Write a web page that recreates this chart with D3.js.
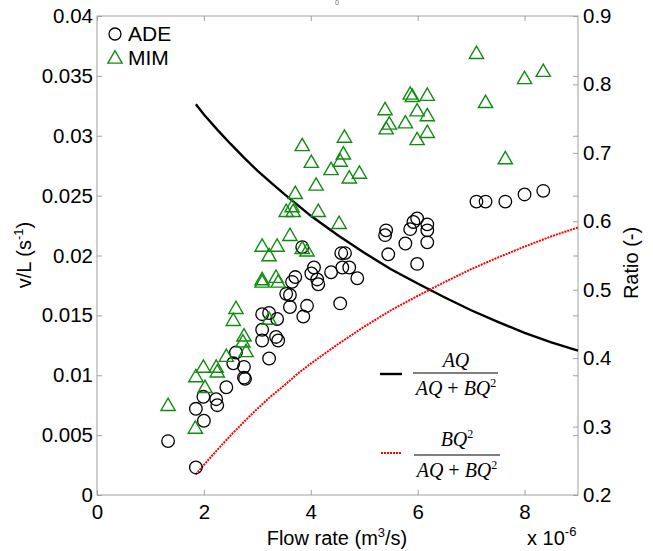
<!DOCTYPE html>
<html>
<head>
<meta charset="utf-8">
<script src="https://cdn.jsdelivr.net/npm/d3@7"></script>
<style>
  body { margin: 0; background: #fff; }
  text { font-family: Arial, "Liberation Sans", Helvetica, sans-serif; }
  text.frac { font-family: "Liberation Serif", "Times New Roman", serif; }
</style>
</head>
<body>
<svg id="chart" width="653" height="551"></svg>
<script>
// Flow rate in units of 1e-6 m^3/s, rate constants v/L in 1/s
const adeFlow = [1.33, 1.85, 1.85, 2.00, 1.99, 2.23, 2.25, 2.42, 2.55, 2.60, 2.75, 2.75, 2.77,
  3.09, 3.22, 3.37, 3.09, 3.09, 3.35, 3.39, 3.22, 3.54, 3.61, 3.61, 3.93, 3.86, 3.65, 3.71,
  4.06, 4.01, 4.12, 4.14, 4.38, 4.55, 3.84, 4.57, 4.64, 4.59, 4.72, 4.87,
  5.41, 5.39, 5.45, 5.77, 5.86, 5.92, 5.99, 6.18, 6.18, 6.18, 5.99,
  7.10, 7.27, 7.64, 8.00, 8.35];
const adeRate = [0.0045, 0.0023, 0.0072, 0.0062, 0.0082, 0.0080, 0.0075, 0.0090, 0.0110, 0.0119, 0.0107, 0.0098, 0.0097,
  0.0151, 0.0152, 0.0147, 0.0138, 0.0129, 0.0132, 0.0129, 0.0114, 0.0168, 0.0167, 0.0157, 0.0158, 0.0149, 0.0178, 0.0182,
  0.0190, 0.0185, 0.0180, 0.0176, 0.0186, 0.0160, 0.0207, 0.0202, 0.0202, 0.0190, 0.0190, 0.0181,
  0.0221, 0.0217, 0.0201, 0.0210, 0.0222, 0.0228, 0.0231, 0.0226, 0.0221, 0.0211, 0.0193,
  0.0245, 0.0245, 0.0245, 0.0251, 0.0254];

const mimFlow = [1.33, 1.84, 1.85, 1.99, 2.02, 2.23, 2.25, 2.42, 2.75, 2.73, 2.79, 2.60, 2.55,
  3.22, 3.09, 3.09, 3.35, 3.39, 3.09, 3.37, 3.22, 3.84, 3.93, 3.61, 3.54, 3.65, 3.67, 3.71,
  4.10, 4.14, 4.53, 4.01, 3.84, 4.38, 4.63, 4.61, 4.55, 4.72, 4.91,
  5.39, 5.47, 5.41, 5.77, 5.86, 5.90, 6.18, 5.99, 6.18, 6.18, 5.99,
  7.10, 7.27, 7.64, 8.00, 8.35];
const mimRate = [0.0074, 0.0055, 0.0098, 0.0106, 0.0089, 0.0106, 0.0102, 0.0115, 0.0132, 0.0127, 0.0119, 0.0155, 0.0145,
  0.0146, 0.0179, 0.0177, 0.0181, 0.0177, 0.0207, 0.0207, 0.0199, 0.0205, 0.0203, 0.0216, 0.0236, 0.0240, 0.0236, 0.0251,
  0.0258, 0.0236, 0.0226, 0.0277, 0.0291, 0.0271, 0.0298, 0.0284, 0.0278, 0.0264, 0.0268,
  0.0321, 0.0309, 0.0305, 0.0310, 0.0334, 0.0332, 0.0333, 0.0320, 0.0316, 0.0302, 0.0296,
  0.0368, 0.0327, 0.0280, 0.0347, 0.0353];

// Share of each term in AQ + BQ^2 (right axis)
const curveFlow = [1.85, 2.0, 2.25, 2.5, 2.75, 3.0, 3.25, 3.5, 3.75, 4.0, 4.5, 5.0, 5.5, 6.0, 6.5, 7.0, 7.5, 8.0, 8.5, 9.0];
const ratioLinear = [0.771, 0.756, 0.734, 0.713, 0.693, 0.674, 0.657, 0.640, 0.624, 0.608, 0.580, 0.554, 0.530, 0.509, 0.489, 0.470, 0.453, 0.437, 0.423, 0.411];
const ratioQuad = [0.230, 0.244, 0.266, 0.287, 0.307, 0.326, 0.344, 0.360, 0.377, 0.392, 0.420, 0.446, 0.470, 0.491, 0.511, 0.530, 0.547, 0.563, 0.578, 0.591];

const xTicks = [0, 2, 4, 6, 8];
const yTicks = [0, 0.005, 0.01, 0.015, 0.02, 0.025, 0.03, 0.035, 0.04];
const ratioTicks = [0.2, 0.3, 0.4, 0.5, 0.6, 0.7, 0.8, 0.9];

const svg = d3.select("#chart");
const L = 97, R = 578, T = 16, B = 495;
const axisGrey = "#a0a0a0";

const x = d3.scaleLinear().domain([0, 9]).range([L, R]);
const y = d3.scaleLinear().domain([0, 0.04]).range([B, T]);
const yR = d3.scaleLinear().domain([0.2, 0.9]).range([B, T]);

const fmt = d => d === 0 ? "0" : String(+d.toFixed(3));

function styleAxis(g, fontSize) {
  g.attr("color", axisGrey);
  g.select(".domain").remove();
  g.selectAll("text").attr("fill", "#000").attr("font-size", fontSize);
}

// Bottom axis
svg.append("g").attr("transform", `translate(0,${B})`)
  .call(d3.axisBottom(x).tickValues(xTicks).tickSizeInner(-5).tickSizeOuter(0).tickPadding(9).tickFormat(d3.format("d")))
  .call(g => styleAxis(g, 20.5));
// Top mirrored ticks
svg.append("g").attr("transform", `translate(0,${T})`)
  .call(d3.axisTop(x).tickValues(xTicks).tickSizeInner(-5).tickSizeOuter(0).tickFormat(""))
  .call(g => { g.attr("color", axisGrey); g.select(".domain").remove(); g.selectAll("text").remove(); });
// Left axis
svg.append("g").attr("transform", `translate(${L},0)`)
  .call(d3.axisLeft(y).tickValues(yTicks).tickSizeInner(-5).tickSizeOuter(0).tickPadding(4).tickFormat(fmt))
  .call(g => styleAxis(g, 20.5));
// Left ticks mirrored on the right edge
svg.append("g").attr("transform", `translate(${R},0)`)
  .call(d3.axisRight(y).tickValues(yTicks).tickSizeInner(-5).tickSizeOuter(0).tickFormat(""))
  .call(g => { g.attr("color", axisGrey); g.select(".domain").remove(); g.selectAll("text").remove(); });
// Right ratio axis
svg.append("g").attr("transform", `translate(${R},0)`)
  .call(d3.axisRight(yR).tickValues(ratioTicks).tickSizeInner(-5).tickSizeOuter(0).tickPadding(5).tickFormat(d3.format(".1f")))
  .call(g => styleAxis(g, 20.5));

// Plot frame
svg.append("rect").attr("x", L).attr("y", T).attr("width", R - L).attr("height", B - T)
  .attr("fill", "none").attr("stroke", axisGrey).attr("stroke-width", 1);

// Ratio curves
const line = vals => d3.line().x((d, i) => x(curveFlow[i])).y(d => yR(d))(vals);
svg.append("path").attr("d", line(ratioLinear))
  .attr("fill", "none").attr("stroke", "#000").attr("stroke-width", 2.4);
svg.append("path").attr("d", line(ratioQuad))
  .attr("fill", "none").attr("stroke", "#ff0000").attr("stroke-width", 2).attr("stroke-dasharray", "2,1");

// ADE markers
svg.append("g").selectAll("circle").data(adeFlow).join("circle")
  .attr("cx", d => x(d)).attr("cy", (d, i) => y(adeRate[i])).attr("r", 6.3)
  .attr("fill", "none").attr("stroke", "#000").attr("stroke-width", 1.3);

// MIM markers
const tri = d3.symbol(d3.symbolTriangle, 88);
const green = "#108c10";
svg.append("g").selectAll("path").data(mimFlow).join("path")
  .attr("transform", (d, i) => `translate(${x(d)},${y(mimRate[i])})`)
  .attr("d", tri).attr("fill", "none").attr("stroke", green).attr("stroke-width", 1.4);

// Marker legend
svg.append("circle").attr("cx", 115).attr("cy", 34).attr("r", 6)
  .attr("fill", "none").attr("stroke", "#000").attr("stroke-width", 1.3);
svg.append("text").attr("x", 128).attr("y", 41).attr("font-size", 21).text("ADE");
svg.append("path").attr("transform", "translate(115,59)").attr("d", tri)
  .attr("fill", "none").attr("stroke", green).attr("stroke-width", 1.4);
svg.append("text").attr("x", 128).attr("y", 65).attr("font-size", 21).text("MIM");

// Fraction legend
function fraction(cx, yNum, yBar, yDen, numParts, x0, x1) {
  const num = svg.append("text").attr("class", "frac").attr("x", cx).attr("y", yNum)
    .attr("text-anchor", "middle").attr("font-size", 20);
  numParts.forEach(p => addPart(num, p));
  svg.append("line").attr("x1", x0).attr("x2", x1).attr("y1", yBar).attr("y2", yBar)
    .attr("stroke", "#000").attr("stroke-width", 1.2);
  const den = svg.append("text").attr("class", "frac").attr("x", cx).attr("y", yDen)
    .attr("text-anchor", "middle").attr("font-size", 20);
  [["AQ", "i"], [" + ", "n"], ["BQ", "i"], ["2", "s"]].forEach(p => addPart(den, p));
}
function addPart(t, [s, kind]) {
  if (kind === "s") {
    t.append("tspan").attr("dy", -8).attr("font-size", 12).text(s);
  } else {
    t.append("tspan").attr("font-style", kind === "i" ? "italic" : "normal").text(s);
  }
}
svg.append("line").attr("x1", 380).attr("x2", 402).attr("y1", 374).attr("y2", 374)
  .attr("stroke", "#000").attr("stroke-width", 2.4);
fraction(456, 367, 373, 395, [["AQ", "i"]], 413, 498);
svg.append("line").attr("x1", 381).attr("x2", 402).attr("y1", 453).attr("y2", 453)
  .attr("stroke", "#ff0000").attr("stroke-width", 2).attr("stroke-dasharray", "2,1");
fraction(457, 446, 455, 477, [["BQ", "i"], ["2", "s"]], 414, 500);

// Axis titles
const xl = svg.append("text").attr("x", 337).attr("y", 545).attr("text-anchor", "middle").attr("font-size", 20);
xl.append("tspan").text("Flow rate (m");
xl.append("tspan").attr("dy", -8).attr("font-size", 13).text("3");
xl.append("tspan").attr("dy", 8).text("/s)");

const xm = svg.append("text").attr("x", 527).attr("y", 545).attr("font-size", 20);
xm.append("tspan").text("x 10");
xm.append("tspan").attr("dy", -9).attr("font-size", 13).text("-6");

const yl = svg.append("text").attr("transform", "translate(31,255) rotate(-90)")
  .attr("text-anchor", "middle").attr("font-size", 20);
yl.append("tspan").text("v/L (s");
yl.append("tspan").attr("dy", -8).attr("font-size", 13).text("-1");
yl.append("tspan").attr("dy", 8).text(")");

svg.append("text").attr("transform", "translate(638,263) rotate(-90)")
  .attr("text-anchor", "middle").attr("font-size", 20).text("Ratio (-)");

svg.append("text").attr("x", 337).attr("y", 5).attr("text-anchor", "middle")
  .attr("font-size", 7).attr("fill", "#666").text("0");
</script>
</body>
</html>
